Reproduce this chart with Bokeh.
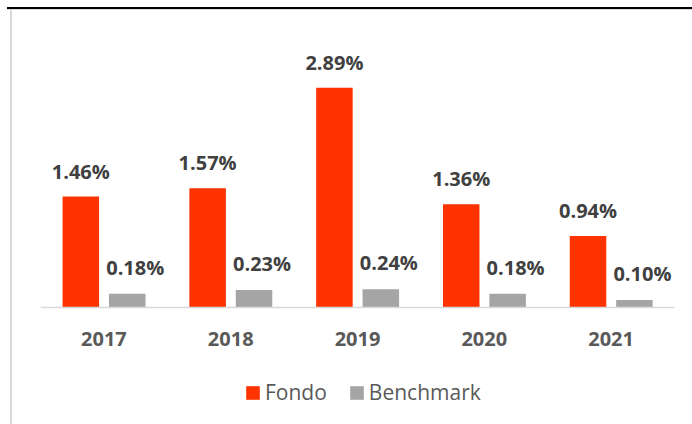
from bokeh.plotting import figure
from bokeh.models import (ColumnDataSource, FactorRange, Range1d, LabelSet, Legend,
                          LegendItem)
from bokeh.core.properties import value
from bokeh.transform import dodge
from bokeh.embed import file_html
from bokeh.resources import INLINE

years = ["2017", "2018", "2019", "2020", "2021"]
fondo = [1.46, 1.57, 2.89, 1.36, 0.94]
benchmark = [0.18, 0.23, 0.24, 0.18, 0.10]

FONT = "Open Sans"
RED = "#FF3300"
GREY = "#A5A5A5"

src = ColumnDataSource(dict(
    years=years,
    fondo=fondo,
    benchmark=benchmark,
    fondo_lbl=[f"{v:.2f}%" for v in fondo],
    bench_lbl=[f"{v:.2f}%" for v in benchmark],
))

W, H = 692, 424
PX_PER_UNIT = 76.0
p = figure(width=W, height=H, output_backend="svg", toolbar_location=None,
           x_range=FactorRange(*years, range_padding=0),
           y_range=Range1d(-117 / PX_PER_UNIT, 287 / PX_PER_UNIT))
p.min_border_left = 40
p.min_border_right = 18
p.min_border_top = 20
p.min_border_bottom = 0
p.outline_line_color = None
p.background_fill_color = None
p.border_fill_color = None
p.styles = {
    "background": ("linear-gradient(#000,#000) 7px 7px / 100% 2px no-repeat, "
                   "linear-gradient(#D9D9D9,#D9D9D9) 7px 9px / 100% 1px no-repeat, "
                   "linear-gradient(#D9D9D9,#D9D9D9) 10px 9px / 2px 100% no-repeat, "
                   "#ffffff"),
}
p.xgrid.grid_line_color = None
p.ygrid.grid_line_color = None
p.yaxis.visible = False

ax = p.xaxis[0]
ax.fixed_location = 0
ax.axis_line_color = "#D9D9D9"
ax.axis_line_width = 1.5
ax.major_tick_line_color = None
ax.minor_tick_line_color = None
ax.major_label_text_font = FONT
ax.major_label_text_font_style = "bold"
ax.major_label_text_font_size = "20px"
ax.major_label_text_color = "#595959"
ax.major_label_standoff = 18

rf = p.vbar(x=dodge("years", -0.182, range=p.x_range), top="fondo", width=0.288,
            source=src, fill_color=RED, line_color=None)
rb = p.vbar(x=dodge("years", 0.184, range=p.x_range), top="benchmark", width=0.288,
            source=src, fill_color=GREY, line_color=None)

for col, lbl, off, xo, yo in (("fondo", "fondo_lbl", -0.182, 0, 18),
                              ("benchmark", "bench_lbl", 0.184, 8, 19)):
    ls = LabelSet(x=dodge("years", off, range=p.x_range), y=col, text=lbl, source=src,
                  x_offset=xo, y_offset=yo, text_align="center", text_baseline="alphabetic",
                  text_font=value(FONT), text_font_style="bold", text_font_size="20px",
                  text_color="#404040")
    p.add_layout(ls)

legend = Legend(items=[LegendItem(label="Fondo", renderers=[rf]),
                       LegendItem(label="Benchmark", renderers=[rb])],
                orientation="horizontal", location=(204, 18),
                padding=0, margin=0, spacing=21, label_standoff=4,
                glyph_width=17, glyph_height=17,
                label_text_font=FONT, label_text_font_size="21px",
                label_text_color="#595959",
                border_line_color=None, background_fill_alpha=0)
p.add_layout(legend, "center")

open("out.html", "w").write(file_html(p, INLINE))
